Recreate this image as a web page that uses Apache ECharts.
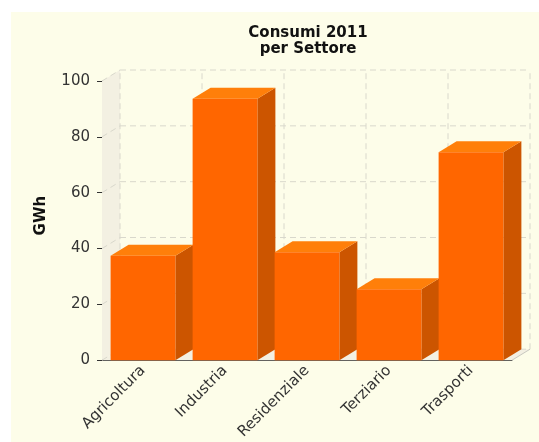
<!DOCTYPE html>
<html><head><meta charset="utf-8">
<script src="https://cdn.jsdelivr.net/npm/echarts@6/dist/echarts.min.js"></script>
<style>html,body{margin:0;padding:0;background:#fff;} #c{position:absolute;left:11px;top:12px;width:528px;height:430px;}</style>
</head><body><div id="c"></div>
<script>
const categories = ['Agricoltura', 'Industria', 'Residenziale', 'Terziario', 'Trasporti'];
const values = [37.4, 93.6, 38.7, 25.4, 74.5];
const yTicks = [0, 20, 40, 60, 80, 100];
const titleText = 'Consumi 2011\nper Settore';
const yName = 'GWh';

const DX = 18, DY = -11;
const chart = echarts.init(document.getElementById('c'));

function wallsRender(params, api) {
  const band = api.size([1, 0])[0];
  const c0 = api.coord([0, 0]);
  const n = categories.length;
  const xL = c0[0] - band / 2;
  const xR = xL + band * n;
  const yB = c0[1];
  const yT = api.coord([0, yTicks[yTicks.length - 1]])[1];
  const children = [];
  children.push({type: 'polygon', shape: {points: [[xL, yB], [xL + DX, yB + DY], [xL + DX, yT + DY], [xL, yT]]}, style: {fill: '#f3f0e2'}});
  children.push({type: 'polygon', shape: {points: [[xL, yB], [xR, yB], [xR + DX, yB + DY], [xL + DX, yB + DY]]}, style: {fill: '#f3f0e2'}});
  const ls = {stroke: '#d9d8cc', lineWidth: 1, lineDash: [6, 4], fill: null};
  yTicks.forEach(function (t) {
    const y = api.coord([0, t])[1];
    children.push({type: 'line', shape: {x1: xL + DX, y1: y + DY, x2: xR + DX, y2: y + DY}, style: ls});
    children.push({type: 'line', shape: {x1: xL, y1: y, x2: xL + DX, y2: y + DY}, style: ls});
  });
  for (let i = 0; i <= n; i++) {
    const x = xL + band * i + DX;
    children.push({type: 'line', shape: {x1: x, y1: yB + DY, x2: x, y2: yT + DY}, style: ls});
  }
  children.push({type: 'line', shape: {x1: xR, y1: yB, x2: xR + DX, y2: yB + DY}, style: {stroke: '#c8c8c0', lineWidth: 1}});
  return {type: 'group', children: children};
}

function barRender(params, api) {
  const i = api.value(0), v = api.value(1);
  const band = api.size([1, 0])[0];
  const w = band * 0.79;
  const top = api.coord([i, v]);
  const base = api.coord([i, 0]);
  const x1 = top[0] - w / 2, x2 = top[0] + w / 2;
  return {type: 'group', children: [
    {type: 'polygon', shape: {points: [[x2, base[1]], [x2 + DX, base[1] + DY], [x2 + DX, top[1] + DY], [x2, top[1]]]}, style: {fill: '#CC5500'}},
    {type: 'polygon', shape: {points: [[x1, top[1]], [x2, top[1]], [x2 + DX, top[1] + DY], [x1 + DX, top[1] + DY]]}, style: {fill: '#FF7F0A'}},
    {type: 'rect', shape: {x: x1, y: top[1], width: w, height: base[1] - top[1]}, style: {fill: '#FF6600'}}
  ]};
}

chart.setOption({
  backgroundColor: '#fdfde9',
  animation: false,
  title: {
    text: titleText, left: 297, top: 13, padding: 0, textAlign: 'center',
    textStyle: {fontFamily: 'DejaVu Sans', fontSize: 15, fontWeight: 'bold', color: '#111', lineHeight: 16}
  },
  grid: {left: 91, right: 27, top: 69, bottom: 81, containLabel: false},
  xAxis: {
    type: 'category', data: categories,
    axisLine: {lineStyle: {color: '#333'}},
    axisTick: {alignWithLabel: true, length: 5, lineStyle: {color: '#333'}},
    axisLabel: {rotate: 45, margin: 8, fontFamily: 'DejaVu Sans', fontSize: 15, color: '#333'},
    splitLine: {show: false}
  },
  yAxis: {
    type: 'value', min: 0, max: 100, interval: 20,
    name: yName, nameLocation: 'middle', nameGap: 53, nameRotate: 90,
    nameTextStyle: {fontFamily: 'DejaVu Sans', fontSize: 15, fontWeight: 'bold', color: '#111', padding: [0, 0, 0, 10]},
    axisLine: {show: true, lineStyle: {color: '#333'}},
    axisTick: {show: true, length: 5, lineStyle: {color: '#333'}},
    axisLabel: {margin: 12, fontFamily: 'DejaVu Sans', fontSize: 15, color: '#333'},
    splitLine: {show: false}
  },
  series: [
    {type: 'custom', z: 1, renderItem: wallsRender, data: [[0, 0]], silent: true},
    {type: 'custom', z: 2, renderItem: barRender, data: values.map(function (v, i) { return [i, v]; })}
  ]
});
</script></body></html>
